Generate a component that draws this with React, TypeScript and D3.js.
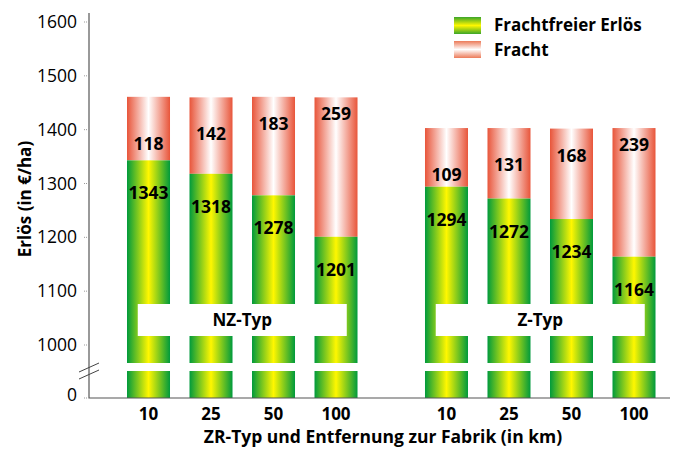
import React from "react";
import * as d3 from "d3";

const groups = ["NZ-Typ", "Z-Typ"];
const distances = ["10", "25", "50", "100"];
const erloesNZ = [1343, 1318, 1278, 1201];
const frachtNZ = [118, 142, 183, 259];
const erloesZ = [1294, 1272, 1234, 1164];
const frachtZ = [109, 131, 168, 239];
const yTicks = [1000, 1100, 1200, 1300, 1400, 1500, 1600];

const seriesByGroup = [
  { group: groups[0], erloes: erloesNZ, fracht: frachtNZ },
  { group: groups[1], erloes: erloesZ, fracht: frachtZ },
];

const font = "'Open Sans', 'Noto Sans', sans-serif";

const App = () => {
  const width = 677;
  const height = 450;
  const axisX = 89;
  const baseY = 398;
  const breakTop = 363; // upper bar part ends here
  const breakBottom = 371; // lower stub begins here

  const y = d3.scaleLinear().domain([1000, 1600]).range([345, 22]);

  const outer = d3
    .scaleBand()
    .domain(groups)
    .range([117.25, 665.25])
    .paddingInner(0.161)
    .paddingOuter(0);

  const inner = d3
    .scaleBand()
    .domain(distances)
    .range([0, outer.bandwidth()])
    .paddingInner(0.312)
    .paddingOuter(0.156);

  const bw = inner.bandwidth();

  return (
    <svg
      width={width}
      height={height}
      style={{ position: "absolute", left: 0, top: 0, background: "#fff" }}
      fontFamily={font}
    >
      <defs>
        <linearGradient id="gGreen" x1="0" x2="1" y1="0" y2="0">
          <stop offset="0" stopColor="#009a3c" />
          <stop offset="0.5" stopColor="#fff700" />
          <stop offset="1" stopColor="#009a3c" />
        </linearGradient>
        <linearGradient id="gRed" x1="0" x2="1" y1="0" y2="0">
          <stop offset="0" stopColor="#e8553a" />
          <stop offset="0.5" stopColor="#ffffff" />
          <stop offset="1" stopColor="#e8553a" />
        </linearGradient>
        <linearGradient id="lGreen" x1="0" x2="0" y1="0" y2="1">
          <stop offset="0" stopColor="#3aa52a" />
          <stop offset="0.5" stopColor="#fff700" />
          <stop offset="1" stopColor="#3aa52a" />
        </linearGradient>
        <linearGradient id="lRed" x1="0" x2="0" y1="0" y2="1">
          <stop offset="0" stopColor="#ec7a58" />
          <stop offset="0.5" stopColor="#ffffff" />
          <stop offset="1" stopColor="#ec7a58" />
        </linearGradient>
      </defs>

      {/* bars */}
      {seriesByGroup.map((s) => (
        <g key={s.group} transform={`translate(${outer(s.group)},0)`}>
          {distances.map((d, i) => {
            const bx = inner(d) as number;
            const greenTop = y(s.erloes[i]);
            const redTop = y(s.erloes[i] + s.fracht[i]);
            return (
              <g key={d}>
                <rect x={bx} y={redTop} width={bw} height={greenTop - redTop} fill="url(#gRed)" />
                <rect x={bx} y={greenTop} width={bw} height={breakTop - greenTop} fill="url(#gGreen)" />
                <rect x={bx} y={breakBottom} width={bw} height={baseY - breakBottom} fill="url(#gGreen)" />
                <text
                  x={bx + bw / 2}
                  y={redTop + 47 - 10 * i}
                  dy="0.35em"
                  textAnchor="middle"
                  fontWeight="bold"
                  fontSize={17.5}
                >
                  {s.fracht[i]}
                </text>
                <text
                  x={bx + bw / 2}
                  y={greenTop + 33}
                  dy="0.35em"
                  textAnchor="middle"
                  fontWeight="bold"
                  fontSize={17.5}
                >
                  {s.erloes[i]}
                </text>
                <text
                  x={bx + bw / 2}
                  y={414}
                  dy="0.35em"
                  textAnchor="middle"
                  fontWeight="bold"
                  fontSize={17}
                >
                  {d}
                </text>
              </g>
            );
          })}
          {/* group label box */}
          <rect x={outer.bandwidth() / 2 - 104.5} y={304} width={209} height={32} fill="#fff" />
          <text
            x={outer.bandwidth() / 2}
            y={320}
            dy="0.35em"
            textAnchor="middle"
            fontWeight="bold"
            fontSize={17}
          >
            {s.group}
          </text>
        </g>
      ))}

      {/* axes */}
      <line x1={axisX} x2={axisX} y1={13} y2={baseY} stroke="#555" strokeWidth={1.2} />
      <line x1={axisX} x2={670} y1={baseY} y2={baseY} stroke="#555" strokeWidth={1.2} />
      {yTicks.map((t) => (
        <g key={t}>
          <line x1={84} x2={axisX} y1={y(t)} y2={y(t)} stroke="#999" strokeDasharray="1,1" />
          <text x={77} y={y(t)} dy="0.35em" textAnchor="end" fontSize={17.5}>
            {t}
          </text>
        </g>
      ))}
      <line x1={84} x2={axisX} y1={baseY} y2={baseY} stroke="#999" strokeDasharray="1,1" />
      <text x={77} y={baseY - 3} dy="0.35em" textAnchor="end" fontSize={17.5}>
        0
      </text>

      {/* axis break */}
      <line x1={79} x2={99} y1={372} y2={363} stroke="#444" strokeWidth={1} />
      <line x1={79} x2={99} y1={379} y2={370} stroke="#444" strokeWidth={1} />

      {/* titles */}
      <text
        transform="translate(25,199) rotate(-90)"
        dy="0.35em"
        textAnchor="middle"
        fontWeight="bold"
        fontSize={17}
      >
        Erlös (in €/ha)
      </text>
      <text x={383} y={437} dy="0.35em" textAnchor="middle" fontWeight="bold" fontSize={17.5}>
        ZR-Typ und Entfernung zur Fabrik (in km)
      </text>

      {/* legend */}
      <rect x={454} y={17} width={27} height={17} fill="url(#lGreen)" />
      <rect x={454} y={41} width={27} height={17} fill="url(#lRed)" />
      <text x={494} y={25} dy="0.35em" fontWeight="bold" fontSize={17}>
        Frachtfreier Erlös
      </text>
      <text x={494} y={50} dy="0.35em" fontWeight="bold" fontSize={17}>
        Fracht
      </text>
    </svg>
  );
};

export default App;
